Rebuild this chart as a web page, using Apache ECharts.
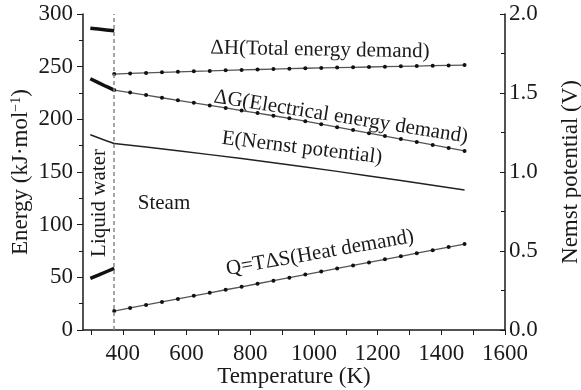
<!DOCTYPE html>
<html>
<head>
<meta charset="utf-8">
<script src="https://cdn.jsdelivr.net/npm/echarts@6/dist/echarts.min.js"></script>
<style>
  html, body { margin: 0; padding: 0; background: #fff; }
  #chart { width: 581px; height: 390px; }
</style>
</head>
<body>
<div id="chart"></div>
<script>
// 数据部分
var phaseT = 373; // liquid / steam boundary

var liquidT = [298, 323, 348, 373];
var liquidH = [286.5, 285.7, 284.9, 284.0];
var liquidG = [238.5, 234.8, 231.2, 227.8];
var liquidQ = [49.0, 52.1, 55.3, 58.5];
var liquidE = [1.236, 1.217, 1.198, 1.180];

var steamT = [373, 423, 473, 523, 573, 623, 673, 723, 773, 823, 873, 923,
              973, 1023, 1073, 1123, 1173, 1223, 1273, 1323, 1373, 1423, 1473];
var steamH = [243.0, 243.6, 244.1, 244.6, 245.1, 245.6, 246.0, 246.5, 246.9, 247.3, 247.7, 248.1,
              248.5, 248.8, 249.1, 249.4, 249.7, 250.0, 250.3, 250.6, 250.9, 251.2, 251.5];
var steamG = [227.8, 225.4, 223.0, 220.5, 218.1, 215.7, 213.2, 210.8, 208.3, 205.9, 203.4, 201.0,
              198.2, 195.4, 192.6, 189.8, 186.9, 184.1, 181.3, 178.5, 175.7, 172.9, 170.0];
var steamQ = [18.0, 20.9, 23.8, 26.7, 29.5, 32.4, 35.3, 38.2, 41.0, 43.9, 46.8, 49.7,
              52.6, 55.5, 58.4, 61.3, 64.2, 67.1, 70.0, 72.9, 75.8, 78.7, 81.6];

var nernstT = [373, 473, 573, 673, 773, 873, 973, 1073, 1173, 1273, 1373, 1473];
var nernstE = [1.180, 1.158, 1.134, 1.110, 1.085, 1.059, 1.032, 1.004, 0.975, 0.946, 0.916, 0.886];

var xLabels = [400, 600, 800, 1000, 1200, 1400, 1600];
var xTicks = [300, 400, 500, 600, 700, 800, 900, 1000, 1100, 1200, 1300, 1400, 1500, 1600];

function pairs(xs, ys) {
    var out = [];
    for (var i = 0; i < xs.length; i++) out.push([xs[i], ys[i]]);
    return out;
}

var FONT = '"Liberation Serif", "Times New Roman", serif';
var INK = '#1a1a1a';

function dotted(name, ys) {
    return {
        name: name, type: 'line', data: pairs(steamT, ys),
        symbol: 'circle', symbolSize: 4,
        lineStyle: { color: '#555', width: 1.3 },
        itemStyle: { color: '#111' }
    };
}
function thick(name, ys) {
    return {
        name: name, type: 'line', data: pairs(liquidT, ys),
        symbol: 'none', lineStyle: { color: '#111', width: 3.5 }
    };
}
function txt(x, y, s, deg) {
    return {
        type: 'text', x: x, y: y, rotation: (deg || 0) * Math.PI / 180,
        style: { text: s, font: '21px ' + FONT, fill: INK,
                 align: 'center', verticalAlign: 'middle',
                 textAlign: 'center', textVerticalAlign: 'middle' }
    };
}

var option = {
    animation: false,
    grid: { left: 83, right: 76, top: 14, bottom: 60, outerBoundsMode: 'none' },
    xAxis: {
        type: 'value', min: 275, max: 1600,
        name: 'Temperature (K)', nameLocation: 'middle', nameGap: 35, nameMoveOverlap: false,
        nameTextStyle: { fontFamily: FONT, fontSize: 23, color: INK },
        axisLine: { lineStyle: { color: INK, width: 1.5 } },
        axisTick: { customValues: xTicks, length: 5, lineStyle: { color: INK } },
        axisLabel: { customValues: xLabels, fontFamily: FONT, fontSize: 23, color: INK, margin: 12,
                     formatter: function (v) { return String(v); } },
        splitLine: { show: false }
    },
    yAxis: [{
        type: 'value', min: 0, max: 300, interval: 50,
        name: '{a|Energy (kJ·mol}{s|−1}{a|)}', nameLocation: 'middle', nameGap: 50, nameMoveOverlap: false,
        nameTextStyle: { rich: {
            a: { fontFamily: FONT, fontSize: 23, color: INK },
            s: { fontFamily: FONT, fontSize: 14, color: INK, padding: [0, 0, 10, 0] }
        } },
        axisLine: { show: true, lineStyle: { color: INK, width: 1.5 } },
        axisTick: { show: true, length: 6, lineStyle: { color: INK } },
        minorTick: { show: true, splitNumber: 2, length: 4, lineStyle: { color: INK } },
        axisLabel: { fontFamily: FONT, fontSize: 23, color: INK, margin: 10 },
        splitLine: { show: false }
    }, {
        type: 'value', min: 0, max: 2, interval: 0.5, position: 'right',
        name: 'Nemst potential (V)', nameLocation: 'middle', nameGap: 54, nameRotate: 90,
        nameMoveOverlap: false,
        nameTextStyle: { fontFamily: FONT, fontSize: 23, color: INK },
        axisLine: { show: true, lineStyle: { color: INK, width: 1.5 } },
        axisTick: { show: true, inside: true, length: 5, lineStyle: { color: INK } },
        minorTick: { show: true, splitNumber: 2, length: 4, lineStyle: { color: INK } },
        axisLabel: { fontFamily: FONT, fontSize: 23, color: INK, margin: 4,
                     formatter: function (v) { return v.toFixed(1); } },
        splitLine: { show: false }
    }],
    series: [
        dotted('dH', steamH),
        dotted('dG', steamG),
        dotted('Q', steamQ),
        {
            name: 'E', type: 'line', yAxisIndex: 1, data: pairs(nernstT, nernstE),
            symbol: 'none', lineStyle: { color: '#222', width: 1.5 },
            markLine: {
                silent: true, symbol: 'none', label: { show: false },
                lineStyle: { color: '#888', type: [4, 3], width: 1.5 },
                data: [{ xAxis: phaseT }]
            }
        },
        thick('dH liquid', liquidH),
        thick('dG liquid', liquidG),
        thick('Q liquid', liquidQ),
        {
            name: 'E liquid', type: 'line', yAxisIndex: 1, data: pairs(liquidT, liquidE),
            symbol: 'none', lineStyle: { color: '#222', width: 1.5 }
        }
    ],
    graphic: [
        txt(320, 50, 'ΔH(Total energy demand)', -1),
        txt(341, 117, 'ΔG(Electrical energy demand)', -9),
        txt(302, 148, 'E(Nernst potential)', -7),
        txt(320, 253, 'Q=TΔS(Heat demand)', 10),
        txt(164, 203, 'Steam', 0),
        txt(99, 203, 'Liquid water', 90)
    ]
};

var myChart = echarts.init(document.getElementById('chart'));
myChart.setOption(option);
</script>
</body>
</html>
